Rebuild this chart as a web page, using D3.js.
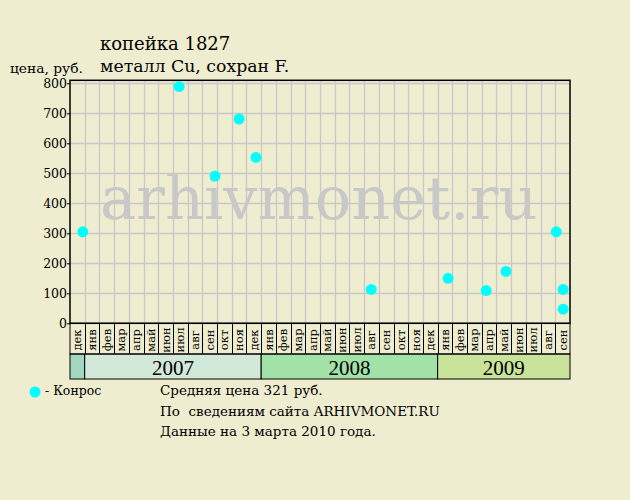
<!DOCTYPE html>
<html><head><meta charset="utf-8">
<script src="https://cdn.jsdelivr.net/npm/d3@7"></script>
<style>html,body{margin:0;padding:0;background:#efedd0;}svg{display:block;}</style>
</head><body>
<script>
const saleDates = ["2006-12-28","2007-07-14","2007-09-27","2007-11-16","2007-12-21","2008-08-16","2009-01-23","2009-04-10","2009-05-21","2009-09-03","2009-09-17","2009-09-17"];
const salePrices = [305,789,491,681,553,113,150,109,173,305,113,47];
const monthLabels = ["дек","янв","фев","мар","апр","май","июн","июл","авг","сен","окт","ноя","дек","янв","фев","мар","апр","май","июн","июл","авг","сен","окт","ноя","дек","янв","фев","мар","апр","май","июн","июл","авг","сен"];
const yearLabels = ["","2007","2008","2009"];
const yearSpans = [1,12,12,9];
const yearColors = ["#a2d8c2","#d2e8d8","#a2e2a8","#c8e29a"];
const yTicks = [0,100,200,300,400,500,600,700,800];
const titleLines = ["копейка 1827","металл Cu, сохран F."];
const yTitle = "цена, руб.";
const legendLabel = "- Конрос";
const infoLines = ["Средняя цена 321 руб.","По  сведениям сайта ARHIVMONET.RU","Данные на 3 марта 2010 года."];
const watermark = "arhivmonet.ru";

const W=630,H=500;
const L=70,R=570,T=80.3,B=323.3;
const monthRowB=354, yearRowB=379;
const font="'DejaVu Serif', serif";
const svg=d3.select("body").append("svg").attr("width",W).attr("height",H);
svg.append("rect").attr("width",W).attr("height",H).attr("fill","#efedd0");

const monthStarts=d3.timeMonth.range(new Date(2006,11,1),new Date(2009,9,2));
const colW=(R-L)/monthLabels.length;
const x=d3.scaleTime().domain(monthStarts).range(monthStarts.map((d,i)=>L+i*colW));
const y=d3.scaleLinear().domain([0,810]).range([B,T]);

// grid
const g=svg.append("g");
g.selectAll("line.v").data(monthStarts.slice(1,-1)).join("line")
  .attr("x1",d=>Math.round(x(d))+0.5).attr("x2",d=>Math.round(x(d))+0.5).attr("y1",T).attr("y2",B)
  .attr("stroke","#c8c8c8").attr("stroke-width",1.3);
g.selectAll("line.h").data(yTicks.slice(1)).join("line")
  .attr("x1",L).attr("x2",R).attr("y1",d=>Math.round(y(d))+0.5).attr("y2",d=>Math.round(y(d))+0.5)
  .attr("stroke","#c8c8c8").attr("stroke-width",1.3);

// watermark
svg.append("text").attr("x",100).attr("y",219).attr("font-family",font).attr("font-size",60.5)
  .attr("fill","#c8c8c8").text(watermark);

// year row
let acc=0;
yearSpans.forEach((s,i)=>{
  const x0=L+acc*colW, x1=L+(acc+s)*colW;
  svg.append("rect").attr("x",x0).attr("y",monthRowB).attr("width",x1-x0).attr("height",yearRowB-monthRowB)
    .attr("fill",yearColors[i]).attr("stroke","#000").attr("stroke-width",1);
  svg.append("text").attr("x",(x0+x1)/2).attr("y",374.5).attr("text-anchor","middle")
    .attr("font-family","'Liberation Serif', serif").attr("font-size",21).attr("fill","#000").text(yearLabels[i]);
  acc+=s;
});

// month row
svg.selectAll("line.m").data(monthStarts.slice(1,-1)).join("line")
  .attr("x1",d=>Math.round(x(d))+0.5).attr("x2",d=>Math.round(x(d))+0.5).attr("y1",B).attr("y2",monthRowB)
  .attr("stroke","#000").attr("stroke-width",1);
svg.append("rect").attr("x",L).attr("y",B).attr("width",R-L).attr("height",monthRowB-B)
  .attr("fill","none").attr("stroke","#000");
svg.selectAll("text.m").data(monthLabels).join("text")
  .attr("transform",(d,i)=>`translate(${L+(i+0.5)*colW+4},${340}) rotate(-90)`)
  .attr("text-anchor","middle").attr("font-family",font).attr("font-size",11.5).attr("fill","#000").text(d=>d);

// y axis
const ax=svg.append("g").attr("transform",`translate(${L},0)`)
  .call(d3.axisLeft(y).tickValues(yTicks).tickSize(3).tickFormat(d3.format("d")));
ax.select(".domain").remove();
ax.selectAll("text").attr("font-family",font).attr("font-size",12.5).attr("fill","#000").attr("dy","0.35em").attr("x",-3);
ax.selectAll("line").attr("stroke","#000");

// plot border
svg.append("rect").attr("x",L).attr("y",T).attr("width",R-L).attr("height",B-T)
  .attr("fill","none").attr("stroke","#000").attr("stroke-width",1.5);

// points
const parse=d3.timeParse("%Y-%m-%d");
svg.selectAll("circle.p").data(saleDates.map((d,i)=>({d:parse(d),v:salePrices[i]}))).join("circle")
  .attr("cx",d=>x(d.d)).attr("cy",d=>y(d.v)).attr("r",5.5).attr("fill","#00ffff");

// titles
svg.append("text").attr("x",100).attr("y",50).attr("font-family",font).attr("font-size",18).text(titleLines[0]);
svg.append("text").attr("x",100).attr("y",72).attr("font-family",font).attr("font-size",17.3).text(titleLines[1]);
svg.append("text").attr("x",10).attr("y",73).attr("font-family",font).attr("font-size",13.8).text(yTitle);

// legend
svg.append("circle").attr("cx",35).attr("cy",392).attr("r",5.5).attr("fill","#00ffff");
svg.append("text").attr("x",45).attr("y",395).attr("font-family",font).attr("font-size",12.5).text(legendLabel);
infoLines.forEach((t,i)=>{
  svg.append("text").attr("x",160).attr("y",395+i*20.5).attr("font-family",font).attr("font-size",13.5).style("white-space","pre").text(t);
});
</script>
</body></html>
